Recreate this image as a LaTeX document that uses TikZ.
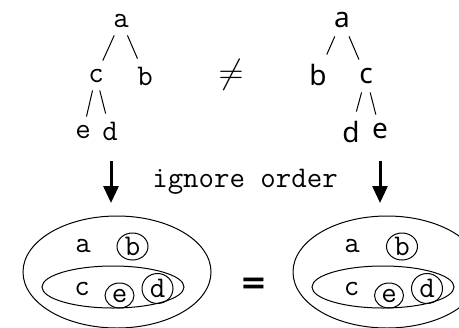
\documentclass[tikz,border=0pt]{standalone}
\usepackage{fontspec}
\newfontfamily\rsans{Noto Sans}
\newfontfamily\eqsans{DejaVu Sans}
\usetikzlibrary{shapes.geometric,arrows.meta}
\begin{document}
\begin{tikzpicture}[x=0.5pt,y=-0.5pt,
  tt/.style={font=\fontsize{15}{15}\ttfamily\selectfont},
  lx/.style={tt, inner sep=4pt, text height=6.5pt, text depth=0pt, anchor=base},
  la/.style={lx, text height=9pt},
  sx/.style={font=\fontsize{14}{14}\rsans\selectfont, inner sep=4.5pt, text height=7pt, text depth=0pt, anchor=base},
  sa/.style={sx, text height=10.5pt},
  treeline/.style={line width=0.5pt},
  setring/.style={draw, ellipse, line width=0.5pt, inner sep=0pt},
  bigarrow/.style={line width=1.5pt, -{Triangle[width=7.5pt,length=8.5pt]}}
]
\useasboundingbox (0,0) rectangle (459,327);
% left tree
\node[lx] (La) at (121,27) {a};
\node[lx] (Lc) at (96,82) {c};
\node[la] (Lb) at (145,85) {b};
\node[lx] (Le) at (83,138) {e};
\node[la] (Ld) at (110,140) {d};
\draw[treeline] (La) -- (Lc);
\draw[treeline] (La) -- (Lb);
\draw[treeline] (Lc) -- (Le);
\draw[treeline] (Lc) -- (Ld);
% right tree
\node[sx] (Ra) at (342,27) {a};
\node[sa] (Rb) at (318,85) {b};
\node[sx] (Rc) at (366,83) {c};
\node[sa] (Rd) at (351,142) {d};
\node[sx] (Re) at (380,138) {e};
\draw[treeline] (Ra) -- (Rb);
\draw[treeline] (Ra) -- (Rc);
\draw[treeline] (Rc) -- (Rd);
\draw[treeline] (Rc) -- (Re);
% not equal
\node[font=\fontsize{19}{19}\selectfont, inner sep=0pt] (neq) at (231,75) {$\neq$};
% arrows and label
\coordinate (L1) at (111,161);
\coordinate (L2) at (111,203);
\coordinate (R1) at (380,161);
\coordinate (R2) at (380,203);
\draw[bigarrow] (L1) -- (L2);
\draw[bigarrow] (R1) -- (R2);
\node[tt, anchor=base] (io) at (245,187) {ignore order};
% left set
\node[setring, minimum width=94pt, minimum height=56pt] (Lout) at (117,272) {};
\node[setring, minimum width=71pt, minimum height=21pt] (Lin) at (113,287) {};
\node[tt, anchor=base] (La2) at (83,252) {a};
\node[setring, tt, minimum width=15.5pt, minimum height=13.5pt] (Lb2) at (132.5,246.5) {b};
\node[tt, anchor=base] (Lc2) at (82,295) {c};
\node[setring, tt, minimum width=14.5pt, minimum height=12.5pt] (Le2) at (119.5,295.5) {e};
\node[setring, tt, minimum width=15.5pt, minimum height=15pt] (Ld2) at (157.5,288.5) {d};
% equals
\node[font=\fontsize{16}{16}\eqsans\bfseries\selectfont, inner sep=0pt, anchor=center] (eq) at (254,286) {=};
% right set
\node[setring, minimum width=94pt, minimum height=56pt] (Rout) at (387,272) {};
\node[setring, minimum width=71pt, minimum height=21pt] (Rin) at (383,287) {};
\node[tt, anchor=base] (Ra2) at (352,252) {a};
\node[setring, tt, minimum width=15.5pt, minimum height=13.5pt] (Rb2) at (402,246.5) {b};
\node[tt, anchor=base] (Rc2) at (351.5,295) {c};
\node[setring, tt, minimum width=14.5pt, minimum height=12.5pt] (Re2) at (389,295.5) {e};
\node[setring, tt, minimum width=15.5pt, minimum height=15pt] (Rd2) at (427,288.5) {d};
\end{tikzpicture}
\end{document}
